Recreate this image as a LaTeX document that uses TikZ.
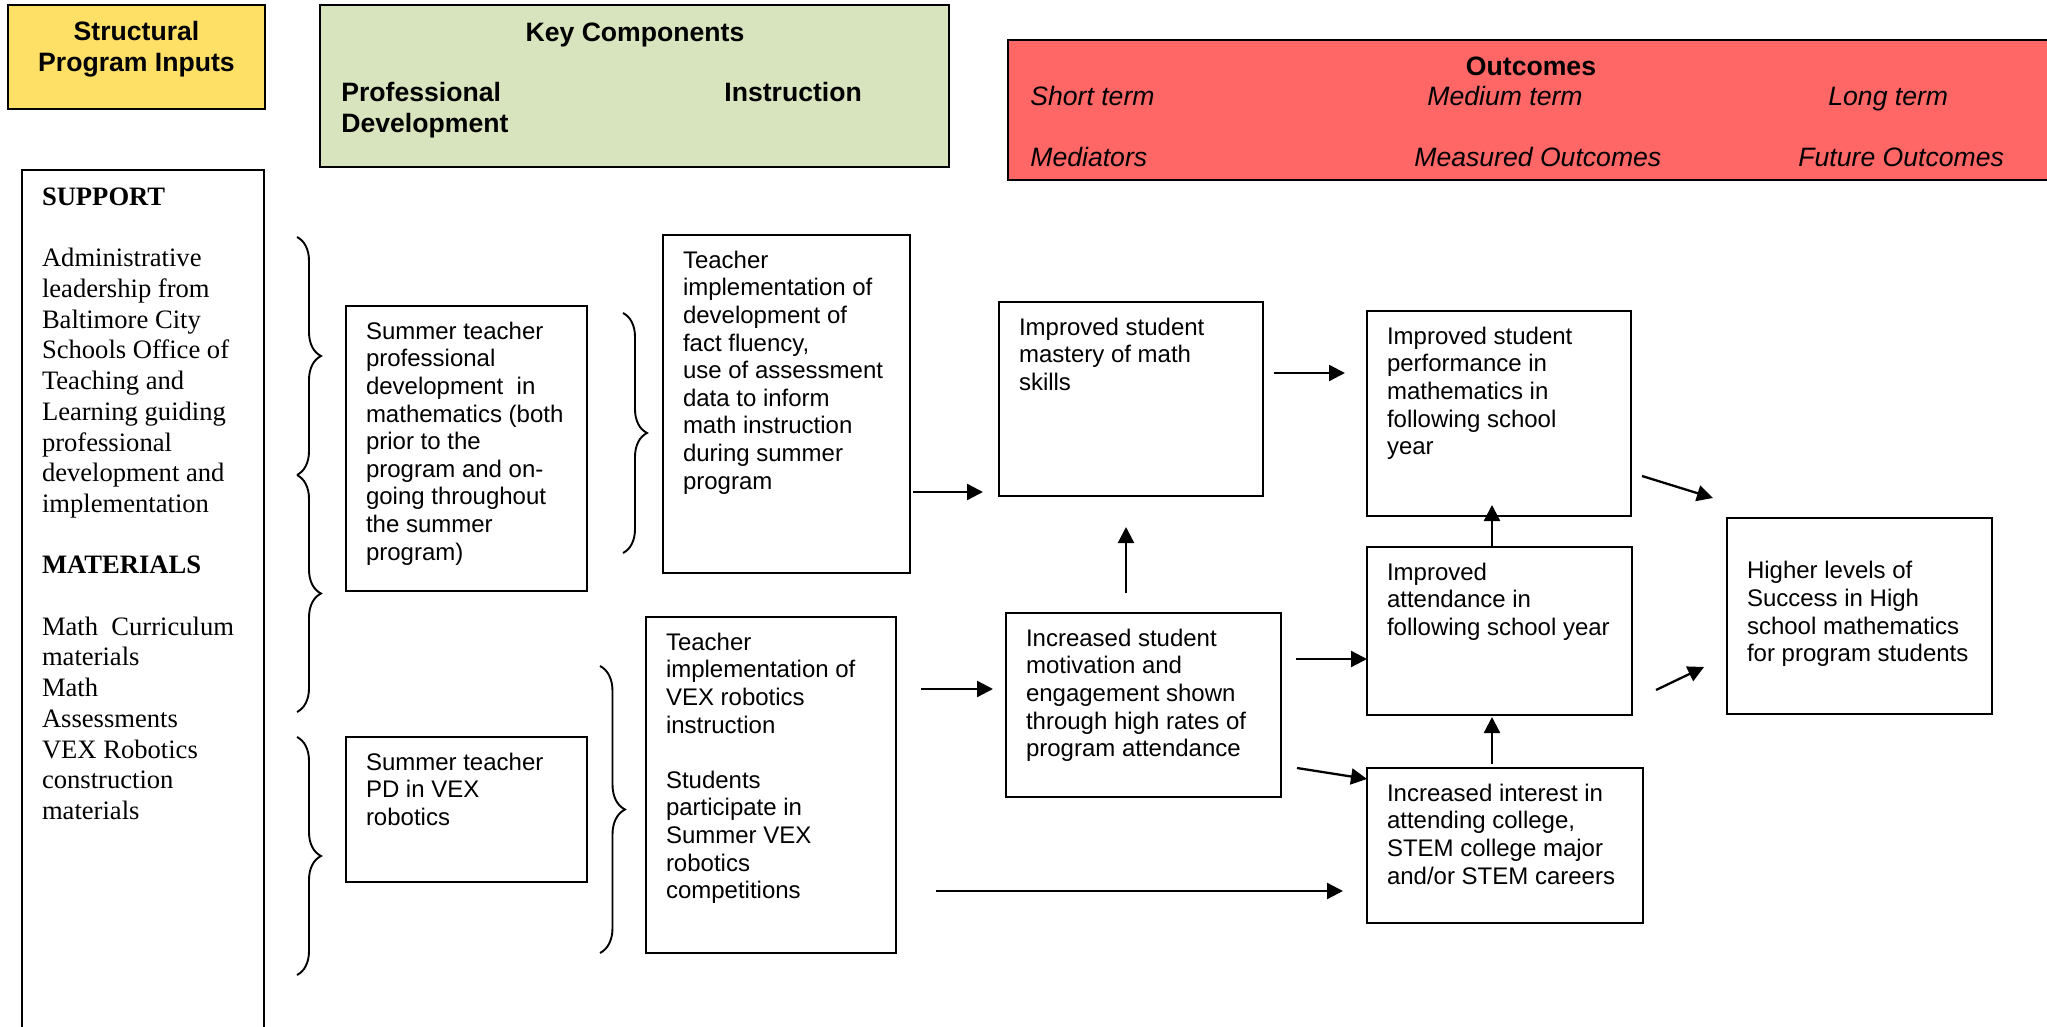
\documentclass[tikz,border=0pt]{standalone}
\usepackage{fontspec}
\setmainfont{Liberation Sans}
\newfontfamily\tnr{Liberation Serif}
\usetikzlibrary{arrows.meta,decorations.pathreplacing,calc}

\definecolor{inputY}{RGB}{255,224,102}
\definecolor{compG}{RGB}{215,228,189}
\definecolor{outR}{RGB}{255,102,102}

\tikzset{
  flow/.style={draw, line width=1pt, fill=white, anchor=north west,
    inner xsep=10pt, inner ysep=7pt, outer sep=0pt,
    font=\fontsize{12}{13.8}\selectfont},
  hdrbox/.style={draw, line width=1.2pt, anchor=north west, inner sep=0pt, outer sep=0pt},
  hdrtxt/.style={inner sep=0pt, font=\fontsize{13.3}{15.3}\selectfont\bfseries},
  subtxt/.style={inner sep=0pt, anchor=base west, font=\fontsize{13.3}{15.3}\selectfont\itshape},
  brc/.style={draw, line width=0.95pt, decorate},
  arr/.style={draw, line width=1.15pt, -{Triangle[length=8pt,width=8pt]}}
}

% box with its border from (x1,y1) to (x2,y2), text set from the top left
\newcommand\flowbox[7][]{%
  \pgfmathsetlengthmacro\fbw{((#5)-(#3))*0.5-20}%
  \pgfmathsetlengthmacro\fbh{((#6)-(#4))*0.5-14}%
  \node[flow,#1] (#2) at (#3,#4) {\begin{minipage}[t][\fbh][t]{\fbw}\begin{tabular}[t]{@{}l@{}}#7\end{tabular}\end{minipage}};}

\begin{document}
\begin{tikzpicture}[x=0.5pt, y=-0.5pt]
\useasboundingbox (0,0) rectangle (2047,1027);

% ---- column headers ----
\node[hdrbox, fill=inputY, minimum width=128.5pt, minimum height=52pt] (inputs) at (8,5) {};
\node[hdrtxt, anchor=base] (inputstitle) at (136.5,41)
  {\begin{tabular}[t]{@{}c@{}}Structural\\Program Inputs\end{tabular}};

\node[hdrbox, fill=compG, minimum width=314.5pt, minimum height=81pt] (components) at (320,5) {};
\node[hdrtxt, anchor=base] (comptitle) at (635,42) {Key Components};
\node[hdrtxt, anchor=base west] (pdhead) at (341,102)
  {\begin{tabular}[t]{@{}l@{}}Professional\\Development\end{tabular}};
\node[hdrtxt, anchor=base west] (insthead) at (724,102) {Instruction};

\node[hdrbox, fill=outR, minimum width=526pt, minimum height=70pt] (outcomes) at (1008,40) {};
\node[hdrtxt, anchor=base] (outtitle) at (1531,76) {Outcomes};
\node[subtxt] (shortt) at (1030,106) {Short term};
\node[subtxt] (mediumt) at (1427,106) {Medium term};
\node[subtxt] (longt) at (1828,106) {Long term};
\node[subtxt] (mediators) at (1030,167) {Mediators};
\node[subtxt] (measured) at (1414,167) {Measured Outcomes};
\node[subtxt] (future) at (1798,167) {Future Outcomes};

% ---- inputs ----
\flowbox[font=\tnr\fontsize{13.3}{15.35}\selectfont]{support}{22}{170}{264}{1040}{%
\textbf{SUPPORT}\\ {}\\
Administrative\\leadership from\\Baltimore City\\Schools Office of\\Teaching and\\Learning guiding\\professional\\development and\\implementation\\ {}\\
\textbf{MATERIALS}\\ {}\\
Math\ \ Curriculum\\materials\\Math\\Assessments\\VEX Robotics\\construction\\materials}

% ---- braces ----
\draw[brc, decoration={brace, amplitude=12pt}] (297,237) -- (297,475);
\draw[brc, decoration={brace, amplitude=12pt}] (297,475) -- (297,712);
\draw[brc, decoration={brace, amplitude=12pt}] (297,737) -- (297,975);
\draw[brc, decoration={brace, amplitude=12pt}] (623,313) -- (623,553);
\draw[brc, decoration={brace, amplitude=12.5pt}] (600,666) -- (600,953);

% ---- key components ----
\flowbox{pdmath}{346}{306}{587}{591}{Summer teacher\\professional\\development\ \ in\\mathematics (both\\prior to the\\program and on-\\going throughout\\the summer\\program)}
\flowbox{pdvex}{346}{737}{587}{882}{Summer teacher\\PD in VEX\\robotics}
\flowbox{mathimpl}{663}{235}{910}{573}{Teacher\\implementation of\\development of\\fact fluency,\\use of assessment\\data to inform\\math instruction\\during summer\\program}
\flowbox{vexinst}{646}{617}{896}{953}{Teacher\\implementation of\\VEX robotics\\instruction\\ {}\\Students\\participate in\\Summer VEX\\robotics\\competitions}

% ---- outcomes ----
\flowbox{mastery}{999}{302}{1263}{496}{Improved student\\mastery of math\\skills}
\flowbox{motiv}{1006}{613}{1281}{797}{Increased student\\motivation and\\engagement shown\\through high rates of\\program attendance}
\flowbox{perf}{1367}{311}{1631}{516}{Improved student\\performance in\\mathematics in\\following school\\year}
\flowbox{attend}{1367}{547}{1632}{715}{Improved\\attendance in\\following school year}
\flowbox{interest}{1367}{768}{1643}{923}{Increased interest in\\attending college,\\STEM college major\\and/or STEM careers}
\flowbox{higher}{1727}{518}{1992}{714}{{}\\Higher levels of\\Success in High\\school mathematics\\for program students}

% ---- arrows ----
\draw[arr] ($(mathimpl.east |- 0,492)+(3,0)$) -- ($(mastery.west |- 0,492)+(-16,0)$);
\draw[arr] ($(vexinst.east |- 0,689)+(25,0)$) -- ($(motiv.west |- 0,689)+(-13,0)$);
\draw[arr] ($(vexinst.east |- 0,891)+(40,0)$) -- ($(interest.west |- 0,891)+(-24,0)$);
\draw[arr] ($(motiv.north -| 1126,0)+(0,-20)$) -- ($(mastery.south -| 1126,0)+(0,31)$);
\draw[arr] ($(mastery.east |- 0,373)+(11,0)$) -- ($(perf.west |- 0,373)+(-22,0)$);
\draw[arr] ($(motiv.east |- 0,659)+(15,0)$) -- (attend.west |- 0,659);
\draw[arr] ($(motiv.east |- 0,768)+(16,0)$) -- (interest.west |- 0,779);
\draw[arr] (attend.north -| 1492,0) -- ($(perf.south -| 1492,0)+(0,-11)$);
\draw[arr] ($(interest.north -| 1492,0)+(0,-4)$) -- ($(attend.south -| 1492,0)+(0,2)$);
\draw[arr] ($(perf.east |- 0,476)+(11,0)$) -- ($(higher.west |- 0,498)+(-14,0)$);
\draw[arr] ($(attend.east |- 0,690)+(24,0)$) -- ($(higher.west |- 0,667)+(-23,0)$);
\end{tikzpicture}
\end{document}
